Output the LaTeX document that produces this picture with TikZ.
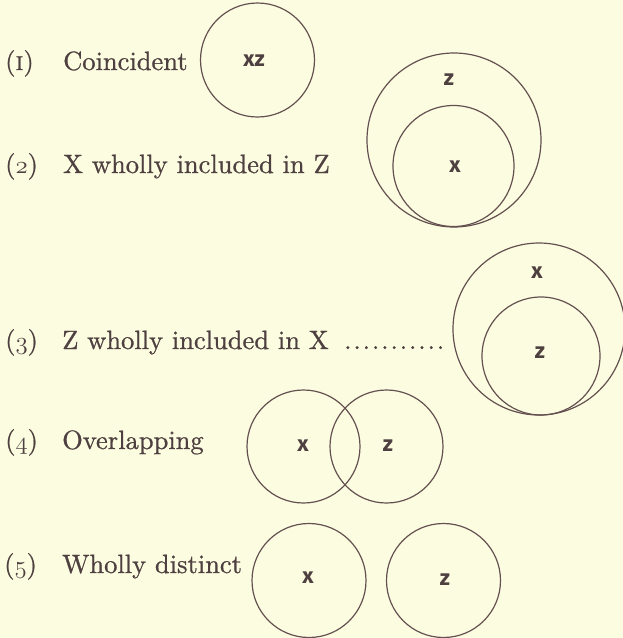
\documentclass[tikz,border=0pt]{standalone}
\usepackage{fontspec}
\setsansfont{Fira Sans}
\newfontfamily\bodyfont{lmroman10-regular}[Extension=.otf, FakeBold=0.8, SmallCapsFont=lmromancaps10-regular]
\definecolor{bg}{RGB}{252,252,224}
\definecolor{ink}{RGB}{78,64,64}
\definecolor{linec}{RGB}{100,80,80}
\newcommand{\osn}[1]{{\usefont{OML}{lmm}{m}{it}#1}}
\begin{document}
\begin{tikzpicture}[x=1pt,y=-1pt,
  ring/.style={circle, draw=linec, line width=1.2pt, inner sep=0pt},
  lbl/.style={font=\sffamily\bfseries\fontsize{22}{22}\selectfont, text=ink, inner sep=0pt},
  txt/.style={font=\bodyfont\fontsize{26.5}{30}\selectfont, text=ink, anchor=base west, inner sep=0pt}]
\fill[bg] (0,0) rectangle (623,638);
\useasboundingbox (0,0) rectangle (623,638);

% (1)
\node[ring, minimum size=114pt] (c1) at (257.5,60) {};
\node[lbl] (l1) at (254,61) {xz};
\node[txt] (n1) at (5,70) {(\textsc{i})};
\node[txt] (t1) at (63,70) {Coincident};

% (2)
\node[ring, minimum size=174pt] (c2o) at (454,140) {};
\node[ring, minimum size=121pt] (c2i) at (453.5,166) {};
\node[lbl] (l2z) at (449,80) {z};
\node[lbl] (l2x) at (455,167) {x};
\node[txt] (n2) at (5,173) {(\osn{2})};
\node[txt] (t2) at (63,173) {X wholly included in Z};

% (3)
\node[ring, minimum size=172pt] (c3o) at (539,329) {};
\node[ring, minimum size=118pt] (c3i) at (541,356) {};
\node[lbl] (l3x) at (537,273) {x};
\node[lbl] (l3z) at (540,353) {z};
\node[txt] (n3) at (5,349) {(\osn{3})};
\node[txt] (t3) at (62,349) {Z wholly included in X};
\node[txt] (d3) at (344,349) {.\kern1.9pt.\kern1.9pt.\kern1.9pt.\kern1.9pt.\kern1.9pt.\kern1.9pt.\kern1.9pt.\kern1.9pt.\kern1.9pt.\kern1.9pt.};

% (4)
\node[ring, minimum size=113pt] (c4x) at (303.5,446.5) {};
\node[ring, minimum size=113pt] (c4z) at (386.5,446.5) {};
\node[lbl] (l4x) at (303,446) {x};
\node[lbl] (l4z) at (388,446) {z};
\node[txt] (n4) at (5,449) {(\osn{4})};
\node[txt] (t4) at (62,449) {Overlapping};

% (5)
\node[ring, minimum size=114pt] (c5x) at (309,580.5) {};
\node[ring, minimum size=114pt] (c5z) at (443.5,580.5) {};
\node[lbl] (l5x) at (308,578) {x};
\node[lbl] (l5z) at (445,580) {z};
\node[txt] (n5) at (4,573) {(\osn{5})};
\node[txt] (t5) at (62,573) {Wholly distinct};
\end{tikzpicture}
\end{document}
